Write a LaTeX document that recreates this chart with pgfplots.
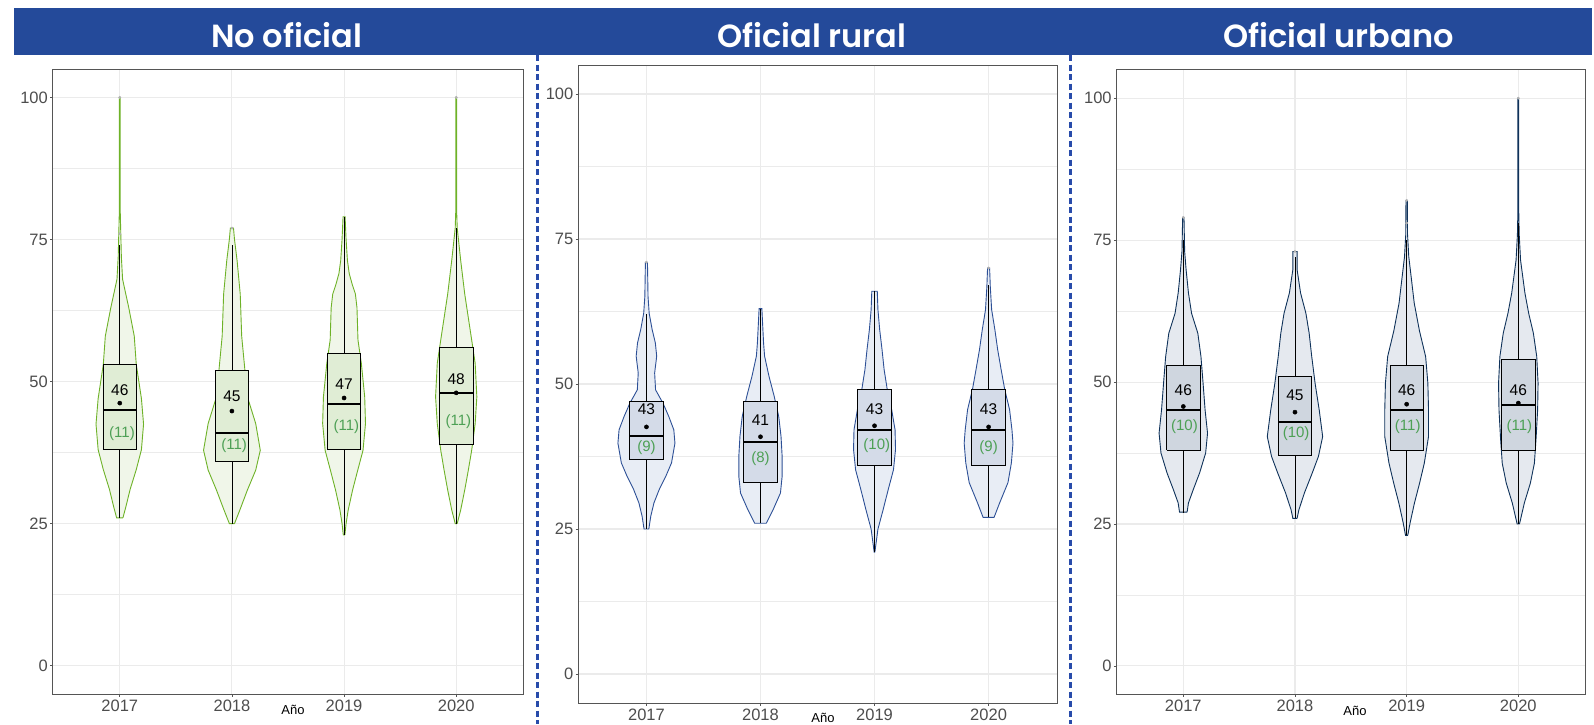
\documentclass[border=0pt]{standalone}
\usepackage{pgfplots}
\pgfplotsset{compat=1.18}
\usepackage{pgfplotstable}
\usepackage{fontspec}
\setmainfont{Liberation Sans}
\newfontfamily\titlefont{Poppins}[UprightFont={* SemiBold}]

\definecolor{hdr}{RGB}{36,74,154}
\definecolor{sepc}{RGB}{40,75,170}
\definecolor{gridc}{RGB}{235,235,235}
\definecolor{axc}{RGB}{85,85,85}
\definecolor{tlc}{RGB}{77,77,77}
\definecolor{ngreen}{RGB}{77,160,85}
\definecolor{gOut}{RGB}{110,178,40}
\definecolor{gFill}{RGB}{240,246,233}
\definecolor{gBox}{RGB}{224,237,213}
\definecolor{rOut}{RGB}{45,80,150}
\definecolor{rFill}{RGB}{232,237,245}
\definecolor{rBox}{RGB}{212,219,232}
\definecolor{uOut}{RGB}{15,50,90}
\definecolor{uFill}{RGB}{229,233,239}
\definecolor{uBox}{RGB}{207,214,223}

% violin outlines: value v, signed half-width w (x units); right side up, left side down
\pgfplotstableread{
v w
26 0.028
28 0.055
31 0.092
34.5 0.147
38 0.193
42.5 0.212
47 0.193
53 0.147
58 0.129
63 0.080
68 0.025
72 0.014
76 0.009
80 0.004
100 0.004
100 -0.004
80 -0.004
76 -0.009
72 -0.014
68 -0.025
63 -0.080
58 -0.129
53 -0.147
47 -0.193
42.5 -0.212
38 -0.193
34.5 -0.147
31 -0.092
28 -0.055
26 -0.028
26 0.028
}\vAa
\pgfplotstableread{
v w
25 0.023
27.4 0.071
30.9 0.138
34.4 0.212
37.9 0.253
42.6 0.212
47.3 0.138
53.2 0.110
58 0.087
65.4 0.074
71.3 0.046
75 0.023
77 0.014
77 -0.014
75 -0.023
71.3 -0.046
65.4 -0.074
58 -0.087
53.2 -0.110
47.3 -0.138
42.6 -0.212
37.9 -0.253
34.4 -0.212
30.9 -0.138
27.4 -0.071
25 -0.023
25 0.023
}\vAb
\pgfplotstableread{
v w
23 0.007
25 0.018
27.4 0.037
30.9 0.076
34.4 0.122
37.9 0.169
42.6 0.191
47.3 0.184
53.2 0.154
57.3 0.124
63 0.115
65.4 0.101
67 0.074
69 0.046
71.3 0.030
75 0.018
79 0.009
79 -0.009
75 -0.018
71.3 -0.030
69 -0.046
67 -0.074
65.4 -0.101
63 -0.115
57.3 -0.124
53.2 -0.154
47.3 -0.184
42.6 -0.191
37.9 -0.169
34.4 -0.122
30.9 -0.076
27.4 -0.037
25 -0.018
23 -0.007
23 0.007
}\vAc
\pgfplotstableread{
v w
25 0.009
27.4 0.040
30.9 0.076
34.4 0.108
37.9 0.138
42.6 0.169
47.3 0.184
53.2 0.169
57.3 0.138
65.4 0.076
71.3 0.040
77 0.009
80 0.004
100 0.004
100 -0.004
80 -0.004
77 -0.009
71.3 -0.040
65.4 -0.076
57.3 -0.138
53.2 -0.169
47.3 -0.184
42.6 -0.169
37.9 -0.138
34.4 -0.108
30.9 -0.076
27.4 -0.040
25 -0.009
25 0.009
}\vAd
\pgfplotstableread{
v w
25 0.021
27.2 0.038
29.5 0.066
31.8 0.112
34.1 0.170
36.4 0.220
39.8 0.250
42.1 0.240
44.4 0.196
46.7 0.145
49 0.080
51.9 0.072
54.8 0.090
57.1 0.078
59.4 0.050
62.2 0.024
65.1 0.014
71 0.009
71 -0.009
65.1 -0.014
62.2 -0.024
59.4 -0.050
57.1 -0.078
54.8 -0.090
51.9 -0.072
49 -0.080
46.7 -0.145
44.4 -0.196
42.1 -0.240
39.8 -0.250
36.4 -0.220
34.1 -0.170
31.8 -0.112
29.5 -0.066
27.2 -0.038
25 -0.021
25 0.021
}\vBa
\pgfplotstableread{
v w
26 0.051
28.3 0.110
31.2 0.175
34.1 0.190
37.5 0.190
41 0.180
44.4 0.160
47.9 0.120
51.3 0.075
54.8 0.036
57.1 0.027
63 0.012
63 -0.012
57.1 -0.027
54.8 -0.036
51.3 -0.075
47.9 -0.120
44.4 -0.160
41 -0.180
37.5 -0.190
34.1 -0.190
31.2 -0.175
28.3 -0.110
26 -0.051
26 0.051
}\vBb
\pgfplotstableread{
v w
21 0.003
25 0.030
28.3 0.075
31.8 0.120
35.2 0.166
38.7 0.184
42.1 0.180
45.6 0.150
49 0.112
52.5 0.084
55.9 0.066
59.4 0.045
62.8 0.030
66 0.024
66 -0.024
62.8 -0.030
59.4 -0.045
55.9 -0.066
52.5 -0.084
49 -0.112
45.6 -0.150
42.1 -0.180
38.7 -0.184
35.2 -0.166
31.8 -0.120
28.3 -0.075
25 -0.030
21 -0.003
21 0.003
}\vBc
\pgfplotstableread{
v w
27 0.048
29.5 0.097
33 0.170
36.4 0.200
39.8 0.214
42.1 0.205
45.6 0.184
49 0.142
52.5 0.110
55.9 0.080
59.4 0.055
62.8 0.027
66.8 0.015
70 0.009
70 -0.009
66.8 -0.015
62.8 -0.027
59.4 -0.055
55.9 -0.080
52.5 -0.110
49 -0.142
45.6 -0.184
42.1 -0.205
39.8 -0.214
36.4 -0.200
33 -0.170
29.5 -0.097
27 -0.048
27 0.048
}\vBd
\pgfplotstableread{
v w
27.1 0.034
28.7 0.046
31 0.088
34 0.146
37.5 0.200
41 0.217
45.1 0.195
49.8 0.177
54.5 0.158
58.6 0.130
62.1 0.074
65.7 0.046
69.8 0.025
73 0.012
79 0.006
79 -0.006
73 -0.012
69.8 -0.025
65.7 -0.046
62.1 -0.074
58.6 -0.130
54.5 -0.158
49.8 -0.177
45.1 -0.195
41 -0.217
37.5 -0.200
34 -0.146
31 -0.088
28.7 -0.046
27.1 -0.034
27.1 0.034
}\vCa
\pgfplotstableread{
v w
26 0.019
27.5 0.035
30.5 0.085
34 0.155
36.9 0.210
40.4 0.248
45.1 0.217
49.8 0.180
54.5 0.150
58.6 0.127
62.1 0.098
65.7 0.050
69.8 0.019
73 0.019
73 -0.019
69.8 -0.019
65.7 -0.050
62.1 -0.098
58.6 -0.127
54.5 -0.150
49.8 -0.180
45.1 -0.217
40.4 -0.248
36.9 -0.210
34 -0.155
30.5 -0.085
27.5 -0.035
26 -0.019
26 0.019
}\vCb
\pgfplotstableread{
v w
23 0.010
25.2 0.031
28.7 0.070
32.2 0.116
35.7 0.158
40.4 0.196
45.1 0.196
49.8 0.190
54.5 0.170
59 0.115
63.9 0.068
68.6 0.040
72.1 0.019
76 0.008
82 0.006
82 -0.006
76 -0.008
72.1 -0.019
68.6 -0.040
63.9 -0.068
59 -0.115
54.5 -0.170
49.8 -0.190
45.1 -0.196
40.4 -0.196
35.7 -0.158
32.2 -0.116
28.7 -0.070
25.2 -0.031
23 -0.010
23 0.010
}\vCc
\pgfplotstableread{
v w
25 0.010
25.8 0.020
28.7 0.054
32.2 0.108
35.7 0.144
40.4 0.160
45.1 0.173
49.8 0.177
54.5 0.165
58.6 0.135
62.1 0.093
65.7 0.059
71.5 0.020
76 0.008
80 0.004
100 0.004
100 -0.004
80 -0.004
76 -0.008
71.5 -0.020
65.7 -0.059
62.1 -0.093
58.6 -0.135
54.5 -0.165
49.8 -0.177
45.1 -0.173
40.4 -0.160
35.7 -0.144
32.2 -0.108
28.7 -0.054
25.8 -0.020
25 -0.010
25 0.010
}\vCd

\pgfplotsset{
  panel/.style={
    scale only axis, anchor=south west,
    xmin=0.4, xmax=4.6, ymin=-5, ymax=105,
    xtick={1,2,3,4}, xticklabels={2017,2018,2019,2020},
    ytick={0,25,50,75,100}, minor ytick={12.5,37.5,62.5,87.5},
    grid=both,
    major grid style={gridc, line width=1.1pt},
    minor grid style={gridc, line width=0.9pt},
    axis line style={axc, line width=0.9pt},
    tick pos=left,
    tick align=outside, major tick length=2.5pt, minor tick length=0pt,
    tick style={axc, line width=0.8pt},
    /pgf/number format/assume math mode=true,
    ticklabel style={font=\fontsize{16.5}{16.5}\selectfont, text=tlc},
    yticklabel style={inner sep=0pt, xshift=-2pt},
    xticklabel style={inner sep=0pt, yshift=-3pt},
  },
}
\tikzset{
  mlab/.style={font=\fontsize{15.5}{15.5}\selectfont, text=black},
  nlab/.style={font=\fontsize{15}{15}\selectfont, text=ngreen},
  ttl/.style={anchor=base, text=white, font=\titlefont\fontsize{32}{32}\selectfont},
}

% #1 centre, #2 table, #3 fill, #4 outline
\newcommand{\violin}[4]{%
  \addplot[fill=#3, draw=#4, line width=0.9pt] table[x expr={#1+\thisrow{w}}, y=v] {#2};
}
% #1 pos, #2 lower whisker, #3 q1, #4 median, #5 q3, #6 upper whisker, #7 fill
\newcommand{\bx}[7]{%
  \addplot[black, line width=0.8pt] table[row sep=\\] {x y\\ #1 #2\\ #1 #3\\};
  \addplot[black, line width=0.8pt] table[row sep=\\] {x y\\ #1 #5\\ #1 #6\\};
  \addplot[draw=black, fill=#7, line width=0.8pt] table[row sep=\\, x expr={\thisrow{x}+#1}]
    {x y\\ -0.15 #3\\ 0.15 #3\\ 0.15 #5\\ -0.15 #5\\ -0.15 #3\\};
  \addplot[black, line width=2pt] table[row sep=\\, x expr={\thisrow{x}+#1}]
    {x y\\ -0.15 #4\\ 0.15 #4\\};
}

\begin{document}
\begin{tikzpicture}[x=1pt,y=1pt]
\path[use as bounding box] (0,0) rectangle (1594,-724);
\fill[hdr] (14,-8) rectangle (1592,-55);
\node[ttl] at (286.6,-47) {No oficial};
\node[ttl] at (811.8,-47) {Oficial rural};
\node[ttl] at (1338.5,-47) {Oficial urbano};
\draw[sepc, line width=2.5pt, dash pattern=on 6pt off 3.5pt] (537.3,-55) -- (537.3,-724);
\draw[sepc, line width=2.5pt, dash pattern=on 6pt off 3.5pt] (1070.7,-55) -- (1070.7,-724);

% ---------- No oficial ----------
\begin{axis}[panel, at={(52.5pt,-694pt)}, width=471pt, height=625pt]
\violin{1}{\vAa}{gFill}{gOut}
\violin{2}{\vAb}{gFill}{gOut}
\violin{3}{\vAc}{gFill}{gOut}
\violin{4}{\vAd}{gFill}{gOut}
\bx{1}{26}{38}{45}{53}{74}{gBox}
\bx{2}{25}{36}{41}{52}{74}{gBox}
\bx{3}{23}{38}{46}{55}{79}{gBox}
\bx{4}{25}{39}{48}{56}{77}{gBox}
\addplot[only marks, mark=*, mark size=1.2pt, gray!60] coordinates {(1,76) (1,100) (2,77) (4,100)};
\addplot[only marks, mark=*, mark size=2.1pt, black] coordinates {(1,46.2) (2,44.8) (3,47.1) (4,48.0)};
\node[mlab] at (axis cs:1,48.5) {46};
\node[mlab] at (axis cs:2,47.4) {45};
\node[mlab] at (axis cs:3,49.6) {47};
\node[mlab] at (axis cs:4,50.4) {48};
\node[nlab] at (axis cs:1.02,40.8) {(11)};
\node[nlab] at (axis cs:2.02,38.8) {(11)};
\node[nlab] at (axis cs:3.02,42.0) {(11)};
\node[nlab] at (axis cs:4.02,42.9) {(11)};
\end{axis}

% ---------- Oficial rural ----------
\begin{axis}[panel, at={(578pt,-703pt)}, width=479pt, height=638pt]
\violin{1}{\vBa}{rFill}{rOut}
\violin{2}{\vBb}{rFill}{rOut}
\violin{3}{\vBc}{rFill}{rOut}
\violin{4}{\vBd}{rFill}{rOut}
\bx{1}{25}{37}{41}{47}{62}{rBox}
\bx{2}{26}{33}{40}{47}{63}{rBox}
\bx{3}{21}{36}{42}{49}{66}{rBox}
\bx{4}{27}{36}{42}{49}{67}{rBox}
\addplot[only marks, mark=*, mark size=1.2pt, gray!60] coordinates {(1,71) (4,70)};
\addplot[only marks, mark=*, mark size=2.1pt, black] coordinates {(1,42.6) (2,40.9) (3,42.8) (4,42.6)};
\node[mlab] at (axis cs:1,45.6) {43};
\node[mlab] at (axis cs:2,43.7) {41};
\node[mlab] at (axis cs:3,45.6) {43};
\node[mlab] at (axis cs:4,45.6) {43};
\node[nlab] at (axis cs:1,39.1) {(9)};
\node[nlab] at (axis cs:2,37.1) {(8)};
\node[nlab] at (axis cs:3.02,39.3) {(10)};
\node[nlab] at (axis cs:4,39.1) {(9)};
\end{axis}

% ---------- Oficial urbano ----------
\begin{axis}[panel, at={(1116.3pt,-694.3pt)}, width=469pt, height=624.5pt]
\violin{1}{\vCa}{uFill}{uOut}
\violin{2}{\vCb}{uFill}{uOut}
\violin{3}{\vCc}{uFill}{uOut}
\violin{4}{\vCd}{uFill}{uOut}
\bx{1}{27}{38}{45}{53}{75}{uBox}
\bx{2}{26}{37}{43}{51}{72}{uBox}
\bx{3}{23}{38}{45}{53}{75}{uBox}
\bx{4}{25}{38}{46}{54}{78}{uBox}
\addplot[only marks, mark=*, mark size=1.2pt, gray!60] coordinates {(1,79) (2,73) (3,78) (3,82) (4,100)};
\addplot[only marks, mark=*, mark size=2.1pt, black] coordinates {(1,45.7) (2,44.7) (3,46.1) (4,46.3)};
\node[mlab] at (axis cs:1,48.65) {46};
\node[mlab] at (axis cs:2,47.65) {45};
\node[mlab] at (axis cs:3,48.65) {46};
\node[mlab] at (axis cs:4,48.65) {46};
\node[nlab] at (axis cs:1.01,42.1) {(10)};
\node[nlab] at (axis cs:2.01,41.0) {(10)};
\node[nlab] at (axis cs:3.01,42.1) {(11)};
\node[nlab] at (axis cs:4.01,42.1) {(11)};
\end{axis}

\node[font=\fontsize{13}{13}\selectfont] at (293,-710) {Año};
\node[font=\fontsize{13}{13}\selectfont] at (823,-718) {Año};
\node[font=\fontsize{13}{13}\selectfont] at (1355,-711) {Año};
\end{tikzpicture}
\end{document}
